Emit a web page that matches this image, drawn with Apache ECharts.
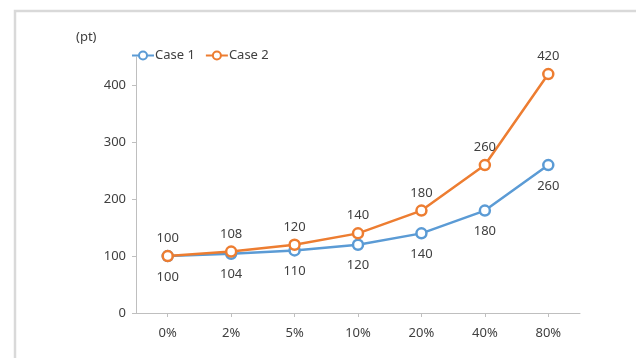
<!DOCTYPE html>
<html>
<head>
<meta charset="utf-8">
<script src="https://cdn.jsdelivr.net/npm/echarts@6/dist/echarts.min.js"></script>
<style>
  html, body { margin: 0; padding: 0; background: #fff; }
  #chart { width: 636px; height: 358px; }
</style>
</head>
<body>
<div id="chart"></div>
<script>
// Categories and series values
const categories = ['0%', '2%', '5%', '10%', '20%', '40%', '80%'];
const case1 = [100, 104, 110, 120, 140, 180, 260];
const case2 = [100, 108, 120, 140, 180, 260, 420];
const yTicks = [0, 100, 200, 300, 400];

const FONT = '"Noto Sans", "Open Sans", sans-serif';
const TEXT = '#404040';
const AXIS = '#bfbfbf';
const BLUE = '#5B9BD5';
const ORANGE = '#ED7D31';

const chart = echarts.init(document.getElementById('chart'), null, { renderer: 'canvas' });

function lineSeries(name, data, color, labelPos, dist) {
  return {
    name: name,
    type: 'line',
    data: data,
    symbol: 'circle',
    symbolSize: 10,
    showAllSymbol: true,
    itemStyle: { color: '#fff', borderColor: color, borderWidth: 2.5 },
    lineStyle: { color: color, width: 2.5 },
    label: {
      show: true,
      position: labelPos,
      distance: dist,
      color: TEXT,
      fontFamily: FONT,
      fontSize: 13
    },
    z: name === 'Case 2' ? 3 : 2
  };
}

chart.setOption({
  animation: false,
  backgroundColor: '#fff',
  textStyle: { fontFamily: FONT },
  graphic: [{
    type: 'rect',
    shape: { x: 15, y: 11, width: 640, height: 360 },
    style: { fill: 'none', stroke: '#d9d9d9', lineWidth: 2.5 },
    silent: true,
    z: -1
  }, {
    type: 'text',
    left: 76,
    top: 31,
    style: { text: '(pt)', fill: TEXT, font: '13px ' + FONT }
  }],
  grid: { left: 136, right: 56, top: 57, bottom: 45, containLabel: false },
  legend: {
    left: 126,
    top: 44,
    itemWidth: 22,
    itemHeight: 10,
    itemGap: 10,
    textStyle: { color: TEXT, fontSize: 13, fontFamily: FONT, padding: [0, 0, 0, -4] },
    data: ['Case 1', 'Case 2']
  },
  xAxis: {
    type: 'category',
    data: categories,
    boundaryGap: true,
    axisLine: { lineStyle: { color: AXIS, width: 1 } },
    axisTick: { show: true, alignWithLabel: true, length: 4, lineStyle: { color: AXIS } },
    axisLabel: { color: TEXT, fontSize: 13, fontFamily: FONT, margin: 14 }
  },
  yAxis: {
    type: 'value',
    min: 0,
    max: 450,
    interval: 100,
    splitLine: { show: false },
    axisLine: { show: true, lineStyle: { color: AXIS, width: 1 } },
    axisTick: { show: true, length: 4, lineStyle: { color: AXIS }, customValues: yTicks },
    axisLabel: { color: TEXT, fontSize: 13, fontFamily: FONT, margin: 10, customValues: yTicks }
  },
  series: [
    lineSeries('Case 1', case1, BLUE, 'bottom', 8),
    lineSeries('Case 2', case2, ORANGE, 'top', 5)
  ]
});
</script>
</body>
</html>
